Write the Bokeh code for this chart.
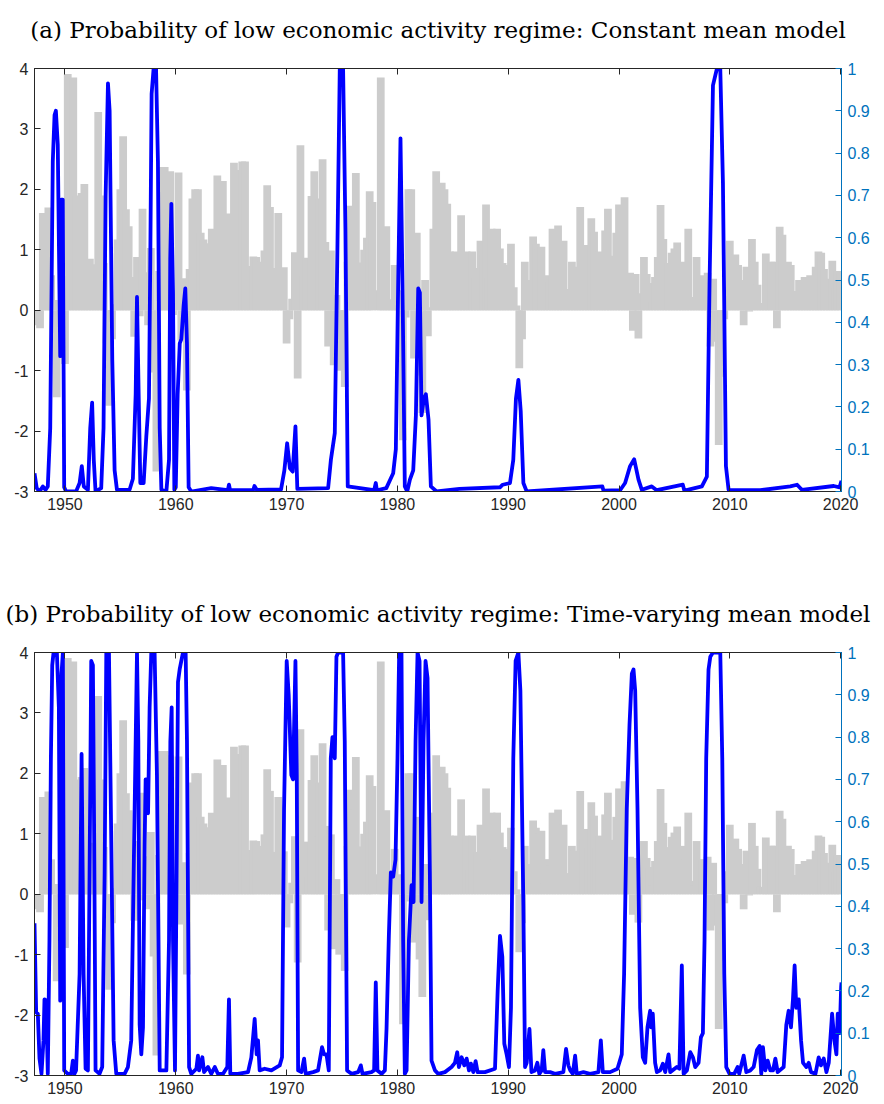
import numpy as np
import pandas as pd
from bokeh.plotting import figure
from bokeh.models import Range1d, LinearAxis, FixedTicker, CustomJSTickFormatter
from bokeh.layouts import column
from bokeh.embed import file_html
from bokeh.resources import INLINE

# ---------------- data ----------------
TITLE_A = "(a) Probability of low economic activity regime: Constant mean model"
TITLE_B = "(b) Probability of low economic activity regime: Time-varying mean model"

X_TICKS = [1950, 1960, 1970, 1980, 1990, 2000, 2010, 2020]
LEFT_TICKS = [-3, -2, -1, 0, 1, 2, 3, 4]
RIGHT_TICKS = [0, 0.1, 0.2, 0.3, 0.4, 0.5, 0.6, 0.7, 0.8, 0.9, 1]

GDP_START = "1947Q2"
# quarterly real GDP growth (%), 1947Q2 .. 2019Q4
GDP = [
    -0.25, -0.3, 1.61,
    1.55, 1.70, 0.58, 0.17,
    -1.44, -0.35, 1.08, -0.89,
    3.91, 3.2, 3.85, 1.9,
    1.35, 1.94, 2.09, 0.25,
    0.85, 0.1, 0.76, 3.28,
    1.9, 0.78, -0.55, -1.58,
    -0.48, 0.1, 1.17, 2.0,
    2.88, 1.67, 1.39, 0.55,
    -0.44, 0.88, -0.1, 1.68,
    0.63, -0.25, 1.03, -1.03,
    -2.67, 0.65, 2.37, 2.37,
    1.98, 2.30, -0.08, 0.33,
    2.28, -0.5, 0.53, -1.33,
    0.68, 1.85, 2.0, 2.0,
    1.28, 1.17, 1.11, 0.28,
    1.35, 1.23, 2.23, 0.78,
    2.14, 1.15, 1.6, 0.3,
    2.44, 1.38, 2.32, 2.46,
    2.46, 0.38, 0.73, 0.89,
    0.88, 0.05, 0.8, 0.99,
    2.07, 1.71, 0.7, 0.4,
    1.61, 0.28, 0.71, -0.55,
    -0.15, 0.19, 0.96, -1.13,
    2.73, 0.57, 0.87, 0.28,
    1.89, 2.30, 0.95, 1.85,
    2.5, 1.13, -0.6, 0.99,
    -0.91, 0.25, -1.0, -0.4,
    -1.27, 0.8, 1.73, 1.4,
    2.27, 0.79, 0.6, 1.0,
    1.2, 1.97, 1.79, 0.0,
    0.33, 3.85, 1.03, 1.39,
    0.18, 0.1, 0.75, 0.25,
    0.33, -2.15, -0.12, 2.0,
    2.0, -0.8, 1.28, -1.08,
    -1.7, 0.5, -0.43, 0.05,
    1.35, 2.3, 2.0, 2.11,
    2.0, 1.76, 0.97, 0.82,
    0.97, 0.9, 1.57, 0.78,
    0.97, 0.4, 0.97, 0.53,
    0.7, 1.15, 0.9, 1.75,
    0.53, 1.35, 0.58, 1.35,
    1.02, 0.78, 0.75, 0.2,
    1.1, 0.38, 0.08, -0.96,
    -0.48, 0.8, 0.5, 0.48,
    1.22, 1.1, 1.0, 1.05,
    0.18, 0.58, 0.48, 1.35,
    0.97, 1.4, 0.6, 1.15,
    0.35, 0.22, 0.8, 0.72,
    0.65, 1.71, 0.92, 1.08,
    0.78, 1.52, 1.3, 0.78,
    0.97, 0.9, 1.32, 1.68,
    0.85, 0.9, 1.28, 1.75,
    0.38, 1.87, 0.12, 0.62,
    -0.34, 0.6, -0.47, 0.28,
    0.88, 0.6, 0.45, 0.15,
    0.55, 0.88, 1.74, 1.18,
    0.55, 0.78, 0.95, 1.02,
    1.12, 0.5, 0.8, 0.58,
    1.35, 0.22, 0.15, 0.88,
    0.22, 0.58, 0.55, 0.62,
    -0.6, 0.52, -0.52, -2.23,
    -1.1, -0.15, 0.38, 1.15,
    0.38, 0.92, 0.75, 0.5,
    -0.25, 0.72, -0.02, 1.18,
    0.8, 0.42, 0.12, 0.12,
    0.94, 0.12, 0.8, 0.8,
    -0.3, 1.38, 1.25, 0.58,
    0.8, 0.75, 0.32, 0.03,
    0.5, 0.48, 0.55, 0.5,
    0.58, 0.42, 0.72, 0.97,
    0.95, 0.68, 0.52, 0.32,
    0.82, 0.38, 0.65, 0.6,
]

# (a) constant mean model: probability of low regime
PA_T = [1947.25, 1947.45, 1947.7, 1948.0, 1948.24, 1948.45, 1948.67, 1948.9, 1949.06, 1949.18,
        1949.35, 1949.57, 1949.66, 1949.8, 1949.93, 1950.1, 1951.0, 1951.32, 1951.52, 1951.7,
        1952.07, 1952.28, 1952.45, 1952.6, 1952.76, 1953.27, 1953.48, 1953.67, 1953.88, 1954.03,
        1954.27, 1954.48, 1954.69, 1955.83, 1956.13, 1956.38, 1956.5, 1956.65, 1956.8, 1957.1,
        1957.34, 1957.58, 1957.7, 1957.82, 1958.0, 1958.22, 1958.39, 1958.55, 1958.7, 1959.15,
        1959.39, 1959.5, 1959.6, 1959.75, 1959.87, 1960.0, 1960.17, 1960.36, 1960.5, 1960.71,
        1960.86, 1961.01, 1961.16, 1961.4, 1963.2, 1964.7, 1964.8, 1964.9, 1967.0, 1967.1,
        1967.3, 1969.5, 1969.8, 1970.05, 1970.3, 1970.55, 1970.8, 1970.97, 1973.75, 1974.0,
        1974.35, 1974.58, 1974.8, 1975.1, 1975.31, 1975.52, 1977.9, 1978.05, 1978.15, 1979.0,
        1979.62, 1979.86, 1980.07, 1980.28, 1980.46, 1980.67, 1980.89, 1981.13, 1981.43, 1981.67,
        1981.88, 1982.03, 1982.18, 1982.39, 1982.57, 1982.81, 1983.02, 1983.54, 1985.6, 1989.26,
        1989.5, 1990.16, 1990.46, 1990.7, 1990.92, 1991.13, 1991.37, 1991.67, 1998.5, 1998.6,
        2000.1, 2000.55, 2001.0, 2001.37, 2001.76, 2002.06, 2002.96, 2003.4, 2005.76, 2005.9,
        2007.48, 2007.93, 2008.17, 2008.48, 2008.84, 2009.14, 2009.38, 2009.65, 2009.89, 2012.75,
        2015.46, 2016.07, 2016.5, 2019.38, 2019.9, 2020.08]
PA_P = [0.043, 0.008, 0.0, 0.012, 0.004, 0.012, 0.15, 0.78, 0.89, 0.90,
        0.82, 0.32, 0.69, 0.69, 0.01, 0.0, 0.0, 0.02, 0.06, 0.012,
        0.004, 0.15, 0.21, 0.075, 0.0, 0.008, 0.15, 0.70, 0.965, 0.90,
        0.31, 0.05, 0.004, 0.004, 0.03, 0.23, 0.46, 0.23, 0.02, 0.02,
        0.13, 0.22, 0.55, 0.94, 1.0, 1.0, 0.78, 0.15, 0.004, 0.0,
        0.075, 0.55, 0.68, 0.47, 0.004, 0.01, 0.23, 0.35, 0.36, 0.44,
        0.48, 0.35, 0.01, 0.0, 0.008, 0.003, 0.016, 0.003, 0.004, 0.013,
        0.004, 0.005, 0.05, 0.114, 0.055, 0.047, 0.154, 0.006, 0.008, 0.075,
        0.138, 0.56, 1.0, 1.0, 0.62, 0.012, 0.003, 0.02, 0.003, 0.008,
        0.043, 0.10, 0.49, 0.835, 0.49, 0.012, 0.0, 0.028, 0.05, 0.18,
        0.48, 0.47, 0.18, 0.22, 0.23, 0.17, 0.012, 0.0, 0.006, 0.01,
        0.016, 0.02, 0.075, 0.22, 0.264, 0.19, 0.02, 0.0, 0.012, 0.002,
        0.003, 0.02, 0.06, 0.076, 0.028, 0.004, 0.012, 0.003, 0.016, 0.002,
        0.012, 0.035, 0.49, 0.96, 1.0, 1.0, 0.73, 0.06, 0.004, 0.003,
        0.012, 0.016, 0.004, 0.013, 0.01, 0.025]

# (b) time-varying mean model: probability of low regime
PB_T = [1947.25, 1947.4, 1947.55, 1947.7, 1947.88, 1948.06, 1948.15, 1948.3, 1948.45, 1948.6,
        1948.73, 1948.85, 1948.97, 1949.27, 1949.45, 1949.57, 1949.69, 1949.81, 1949.93, 1950.26,
        1950.56, 1950.71, 1950.86, 1951.0, 1951.32, 1951.5, 1951.68, 1951.86, 1952.07, 1952.22,
        1952.37, 1952.52, 1952.64, 1952.76, 1953.12, 1953.36, 1953.58, 1953.73, 1953.97, 1954.18,
        1954.39, 1954.63, 1955.38, 1955.68, 1955.98, 1956.2, 1956.38, 1956.5, 1956.62, 1956.74,
        1956.89, 1957.04, 1957.19, 1957.28, 1957.4, 1957.5, 1957.64, 1957.79, 1958.09, 1958.3,
        1958.55, 1959.15, 1959.39, 1959.51, 1959.63, 1959.75, 1959.93, 1960.05, 1960.2, 1960.35,
        1960.5, 1960.65, 1960.89, 1961.01, 1961.2, 1961.4, 1961.86, 1962.0, 1962.1, 1962.4,
        1962.55, 1962.91, 1963.2, 1963.52, 1963.8, 1964.27, 1964.65, 1964.8, 1964.92, 1965.6,
        1966.52, 1966.82, 1967.12, 1967.3, 1967.42, 1967.57, 1968.02, 1968.63, 1969.38, 1969.59,
        1969.77, 1970.01, 1970.19, 1970.43, 1970.58, 1970.8, 1970.92, 1971.04, 1971.34, 1971.58,
        1971.73, 1972.39, 1972.84, 1973.2, 1973.38, 1973.6, 1973.81, 1973.99, 1974.14, 1974.35,
        1974.5, 1974.65, 1975.1, 1975.25, 1975.46, 1975.86, 1976.46, 1976.7, 1976.85, 1977.66,
        1977.9, 1978.05, 1978.2, 1978.57, 1978.87, 1979.02, 1979.23, 1979.41, 1979.62, 1979.83,
        1980.01, 1980.16, 1980.37, 1980.52, 1980.67, 1980.83, 1981.04, 1981.28, 1981.46, 1981.64,
        1981.82, 1982.0, 1982.18, 1982.36, 1982.54, 1982.72, 1982.93, 1983.08, 1983.39, 1983.69,
        1984.29, 1984.89, 1985.19, 1985.4, 1985.55, 1985.8, 1986.04, 1986.25, 1986.46, 1986.64,
        1986.85, 1987.06, 1987.24, 1987.9, 1988.81, 1989.05, 1989.26, 1989.47, 1989.65, 1989.86,
        1990.07, 1990.25, 1990.46, 1990.67, 1990.92, 1991.1, 1991.37, 1991.52, 1991.67, 1991.92,
        1992.1, 1992.42, 1992.63, 1992.81, 1993.02, 1993.17, 1993.33, 1993.78, 1994.23, 1994.98,
        1995.22, 1995.43, 1995.6, 1995.83, 1996.04, 1996.19, 1996.79, 1997.39, 1998.14, 1998.36,
        1998.54, 1999.2, 1999.86, 2000.25, 2000.46, 2000.7, 2000.95, 2001.16, 2001.31, 2001.46,
        2001.67, 2001.91, 2002.15, 2002.36, 2002.57, 2002.81, 2002.9, 2003.05, 2003.26, 2003.42,
        2003.72, 2003.96, 2004.17, 2004.47, 2004.62, 2005.22, 2005.45, 2005.67, 2005.83, 2006.13,
        2006.43, 2006.67, 2006.88, 2007.18, 2007.39, 2007.57, 2007.72, 2007.87, 2008.08, 2008.24,
        2008.48, 2009.14, 2009.32, 2009.5, 2009.68, 2009.98, 2010.4, 2010.7, 2010.85, 2011.25,
        2011.49, 2011.85, 2012.15, 2012.45, 2012.69, 2012.84, 2012.99, 2013.2, 2013.42, 2013.66,
        2013.9, 2014.11, 2014.32, 2014.86, 2015.1, 2015.31, 2015.52, 2015.7, 2015.85, 2016.0,
        2016.22, 2016.43, 2016.61, 2016.91, 2017.12, 2017.33, 2017.73, 2018.02, 2018.23, 2018.48,
        2018.72, 2018.93, 2019.23, 2019.44, 2019.62, 2019.74, 2019.92, 2020.05, 2020.08]
PB_P = [0.36, 0.15, 0.146, 0.04, 0.004, 0.083, 0.18, 0.177, 0.004, 0.32,
        0.75, 0.97, 1.0, 1.0, 0.87, 0.177, 0.95, 1.0, 0.012, 0.004,
        0.004, 0.035, 0.004, 0.012, 0.24, 0.76, 0.24, 0.016, 0.012, 0.48,
        0.98, 0.97, 0.55, 0.012, 0.004, 0.02, 0.48, 1.0, 1.0, 0.55,
        0.083, 0.004, 0.004, 0.02, 0.083, 0.48, 0.79, 1.0, 0.79, 0.12,
        0.05, 0.114, 0.55, 0.70, 0.70, 0.62, 0.87, 1.0, 1.0, 0.71,
        0.012, 0.012, 0.32, 0.79, 0.87, 0.32, 0.012, 0.40, 0.93, 0.96,
        0.98, 1.0, 1.0, 0.79, 0.02, 0.004, 0.016, 0.047, 0.012, 0.043,
        0.008, 0.02, 0.004, 0.02, 0.004, 0.004, 0.02, 0.18, 0.004, 0.004,
        0.008, 0.043, 0.134, 0.05, 0.083, 0.012, 0.016, 0.012, 0.024, 0.043,
        0.63, 0.98, 0.90, 0.71, 0.70, 0.98, 0.71, 0.012, 0.008, 0.04,
        0.004, 0.008, 0.012, 0.067, 0.05, 0.05, 0.012, 0.75, 0.80, 0.75,
        0.99, 1.0, 1.0, 0.79, 0.012, 0.004, 0.008, 0.024, 0.004, 0.008,
        0.012, 0.22, 0.012, 0.004, 0.012, 0.11, 0.33, 0.48, 0.47, 0.51,
        0.75, 1.0, 1.0, 0.32, 0.004, 0.012, 0.32, 0.45, 0.41, 0.79,
        1.0, 0.98, 0.41, 0.79, 0.98, 0.94, 0.48, 0.035, 0.012, 0.004,
        0.008, 0.02, 0.03, 0.055, 0.02, 0.043, 0.024, 0.04, 0.012, 0.028,
        0.008, 0.034, 0.008, 0.008, 0.016, 0.20, 0.33, 0.28, 0.075, 0.05,
        0.02, 0.16, 0.75, 0.98, 1.0, 0.91, 0.40, 0.02, 0.03, 0.11,
        0.008, 0.012, 0.03, 0.004, 0.012, 0.06, 0.008, 0.008, 0.004, 0.008,
        0.063, 0.024, 0.012, 0.004, 0.047, 0.004, 0.008, 0.004, 0.008, 0.083,
        0.008, 0.008, 0.016, 0.05, 0.24, 0.63, 0.83, 0.95, 0.96, 0.91,
        0.63, 0.16, 0.043, 0.03, 0.114, 0.153, 0.114, 0.146, 0.03, 0.008,
        0.012, 0.028, 0.008, 0.05, 0.008, 0.02, 0.016, 0.26, 0.004, 0.012,
        0.055, 0.043, 0.02, 0.03, 0.09, 0.10, 0.32, 0.75, 0.96, 0.99,
        1.0, 1.0, 0.75, 0.24, 0.02, 0.004, 0.004, 0.02, 0.004, 0.047,
        0.008, 0.012, 0.02, 0.06, 0.07, 0.004, 0.067, 0.012, 0.035, 0.012,
        0.012, 0.04, 0.008, 0.02, 0.12, 0.153, 0.114, 0.18, 0.26, 0.16,
        0.18, 0.083, 0.03, 0.02, 0.03, 0.008, 0.004, 0.043, 0.024, 0.04,
        0.008, 0.03, 0.146, 0.083, 0.05, 0.146, 0.10, 0.21, 0.22]

# ---------------- styling ----------------
X_START, X_END = 1947.25, 2020.08
BAR_WIDTH = 0.7
BAR_COLOR = "#CCCCCC"
LINE_COLOR = "#0000FF"
RIGHT_COLOR = "#0072BD"
AXIS_COLOR = "#262626"
TICK_FONT = "Liberation Sans"
TITLE_FONT = "DejaVu Serif"

q = pd.period_range(GDP_START, periods=len(GDP), freq="Q")
bar_x = (q.year + q.quarter / 4.0).to_numpy(dtype=float)


def make_panel(title, pt, pp, top_border, bottom_border):
    p = figure(frame_width=807, frame_height=423,
               x_range=Range1d(X_START, X_END), y_range=Range1d(-3, 4),
               output_backend="svg", toolbar_location=None,
               min_border_left=34, min_border_right=38,
               min_border_top=top_border, min_border_bottom=bottom_border,
               background_fill_color="white", border_fill_color="white")
    p.extra_y_ranges = {"prob": Range1d(0, 1)}
    p.grid.visible = False
    p.outline_line_color = AXIS_COLOR
    p.outline_line_width = 1

    p.title.text = title
    p.title.align = "center"
    p.title.text_font = TITLE_FONT
    p.title.text_font_size = "23px"
    p.title.text_font_style = "normal"
    p.title.text_color = "#000000"
    p.title.offset = 3
    p.title.standoff = 8
    p.title.padding = dict(top=0, right=0, bottom=22, left=0)

    p.vbar(x=bar_x, width=BAR_WIDTH, top=GDP, bottom=0,
           fill_color=BAR_COLOR, line_color=None)
    p.line(pt, pp, y_range_name="prob", line_color=LINE_COLOR,
           line_width=3.8, line_join="round")

    plain = CustomJSTickFormatter(code="return String(tick);")
    xa = p.xaxis[0]
    xa.ticker = FixedTicker(ticks=X_TICKS)
    ya = p.yaxis[0]
    ya.ticker = FixedTicker(ticks=LEFT_TICKS)
    ya.formatter = plain
    for ax in (xa, ya):
        ax.major_tick_in = 6
        ax.major_tick_out = 0
        ax.minor_tick_line_color = None
        ax.axis_line_color = AXIS_COLOR
        ax.major_tick_line_color = AXIS_COLOR
        ax.major_label_text_font = TICK_FONT
        ax.major_label_text_font_size = "16px"
        ax.major_label_text_color = AXIS_COLOR
        ax.major_label_standoff = 6

    top = LinearAxis(ticker=FixedTicker(ticks=X_TICKS),
                     formatter=CustomJSTickFormatter(code="return '';"))
    top.major_tick_in = 6
    top.major_tick_out = 0
    top.minor_tick_line_color = None
    top.axis_line_color = AXIS_COLOR
    top.major_tick_line_color = AXIS_COLOR
    top.major_label_standoff = 0
    p.add_layout(top, "above")

    ra = LinearAxis(y_range_name="prob", ticker=FixedTicker(ticks=RIGHT_TICKS),
                    formatter=CustomJSTickFormatter(code="return String(tick);"))
    ra.major_tick_in = 6
    ra.major_tick_out = 0
    ra.minor_tick_line_color = None
    ra.axis_line_color = RIGHT_COLOR
    ra.major_tick_line_color = RIGHT_COLOR
    ra.major_label_text_color = RIGHT_COLOR
    ra.major_label_text_font = TICK_FONT
    ra.major_label_text_font_size = "16px"
    ra.major_label_standoff = 6
    p.add_layout(ra, "right")
    return p


pa = make_panel(TITLE_A, PA_T, PA_P, 68, 100)
pb = make_panel(TITLE_B, PB_T, PB_P, 61, 25)

layout = column(pa, pb, spacing=0)
open("out.html", "w").write(file_html(layout, INLINE))
